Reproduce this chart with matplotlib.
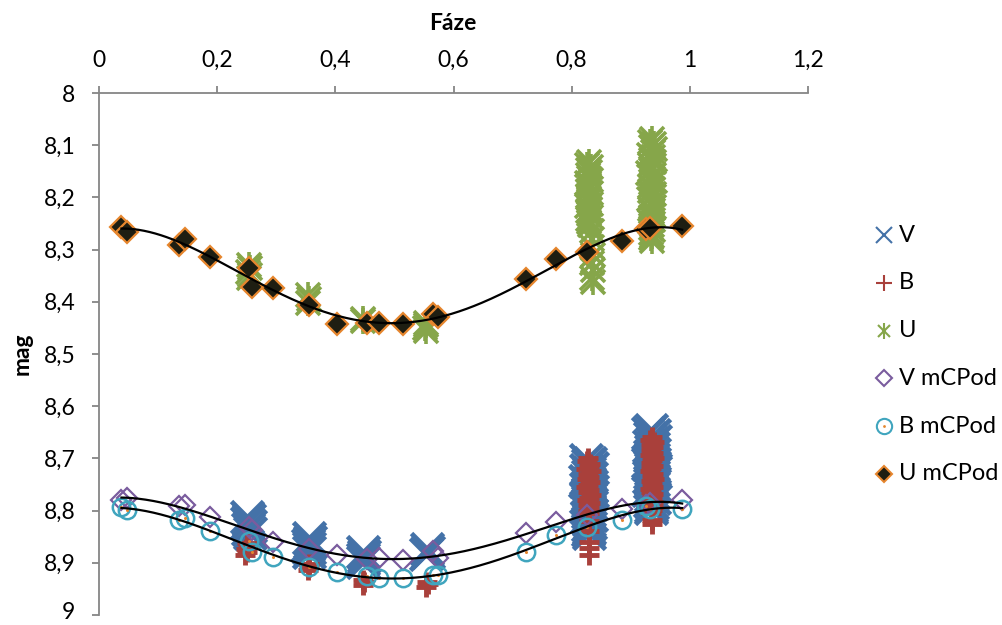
import numpy as np
import matplotlib.pyplot as plt
from matplotlib.lines import Line2D
from matplotlib.ticker import FuncFormatter
from matplotlib.transforms import ScaledTranslation

plt.rcParams['font.family'] = ['Lato', 'DejaVu Sans']

# --- raw photometry (phase, magnitude) ---
v_phase = [0.251, 0.254, 0.250, 0.256, 0.252, 0.255,
           0.355, 0.357, 0.354, 0.356, 0.355,
           0.447, 0.448, 0.446, 0.447,
           0.555, 0.556, 0.554,
           0.824, 0.831, 0.827, 0.834, 0.825, 0.830, 0.828, 0.833, 0.823, 0.829,
           0.832, 0.826, 0.834, 0.828, 0.824, 0.831, 0.827, 0.833, 0.825, 0.830,
           0.828, 0.832, 0.826, 0.829, 0.831, 0.827, 0.830, 0.828, 0.829,
           0.935, 0.930, 0.939, 0.933, 0.941, 0.936, 0.931, 0.938, 0.934, 0.940,
           0.932, 0.937, 0.935, 0.929, 0.939, 0.934, 0.941, 0.936, 0.931, 0.938,
           0.933, 0.940, 0.935, 0.930, 0.937, 0.934, 0.939, 0.932, 0.936, 0.935, 0.934]
v_mag = [8.812, 8.818, 8.824, 8.830, 8.836, 8.842,
         8.853, 8.860, 8.866, 8.872, 8.879,
         8.880, 8.887, 8.893, 8.899,
         8.874, 8.879, 8.884,
         8.703, 8.708, 8.713, 8.718, 8.723, 8.728, 8.733, 8.738, 8.743, 8.748,
         8.753, 8.758, 8.763, 8.768, 8.773, 8.778, 8.783, 8.788, 8.793, 8.798,
         8.803, 8.808, 8.813, 8.818, 8.823, 8.828, 8.833, 8.838, 8.843,
         8.646, 8.651, 8.656, 8.661, 8.666, 8.671, 8.676, 8.681, 8.686, 8.691,
         8.696, 8.701, 8.706, 8.711, 8.716, 8.721, 8.726, 8.731, 8.736, 8.741,
         8.746, 8.751, 8.756, 8.761, 8.766, 8.771, 8.776, 8.781, 8.786, 8.791, 8.795]

b_phase = [0.250, 0.252, 0.249, 0.251, 0.247,
           0.355, 0.356, 0.354,
           0.447, 0.448, 0.446,
           0.555, 0.556, 0.554,
           0.828, 0.826, 0.831, 0.829, 0.825, 0.832, 0.827, 0.830, 0.826, 0.831,
           0.828, 0.825, 0.830, 0.827, 0.832, 0.829, 0.826, 0.831, 0.828, 0.830,
           0.827, 0.829, 0.829, 0.830, 0.830, 0.830, 0.830,
           0.936, 0.933, 0.939, 0.935, 0.938, 0.934, 0.937, 0.932, 0.939, 0.936,
           0.934, 0.938, 0.935, 0.933, 0.937, 0.936, 0.939, 0.934, 0.936, 0.938,
           0.933, 0.935, 0.937, 0.936, 0.934, 0.938, 0.935, 0.937, 0.936, 0.935,
           0.936, 0.936]
b_mag = [8.862, 8.868, 8.873, 8.879, 8.886,
         8.903, 8.908, 8.913,
         8.932, 8.937, 8.942,
         8.936, 8.941, 8.946,
         8.700, 8.705, 8.710, 8.715, 8.720, 8.725, 8.730, 8.735, 8.740, 8.745,
         8.750, 8.755, 8.760, 8.765, 8.770, 8.775, 8.780, 8.785, 8.790, 8.795,
         8.800, 8.805, 8.820, 8.840, 8.860, 8.872, 8.885,
         8.659, 8.664, 8.669, 8.674, 8.679, 8.684, 8.689, 8.694, 8.699, 8.704,
         8.709, 8.714, 8.719, 8.724, 8.729, 8.734, 8.739, 8.744, 8.749, 8.754,
         8.759, 8.764, 8.769, 8.774, 8.779, 8.784, 8.789, 8.794, 8.799, 8.804,
         8.818, 8.826]

u_phase = [0.254, 0.256, 0.253, 0.255, 0.254,
           0.354, 0.355, 0.354,
           0.447, 0.447,
           0.553, 0.554, 0.552, 0.553,
           0.829, 0.826, 0.832, 0.828, 0.831, 0.827, 0.830, 0.833, 0.826, 0.829,
           0.831, 0.828, 0.832, 0.827, 0.830, 0.829, 0.833, 0.826, 0.831, 0.828,
           0.830, 0.832, 0.827, 0.829, 0.831, 0.834, 0.835, 0.834, 0.836, 0.835,
           0.836, 0.835, 0.836,
           0.936, 0.932, 0.939, 0.934, 0.941, 0.937, 0.931, 0.938, 0.935, 0.940,
           0.933, 0.937, 0.935, 0.930, 0.939, 0.934, 0.941, 0.936, 0.932, 0.938,
           0.933, 0.940, 0.935, 0.931, 0.937, 0.934, 0.939, 0.932, 0.936, 0.938,
           0.935, 0.937, 0.933, 0.936, 0.934, 0.937, 0.935, 0.936, 0.935, 0.936]
u_mag = [8.330, 8.336, 8.342, 8.348, 8.355,
         8.387, 8.395, 8.402,
         8.432, 8.437,
         8.440, 8.445, 8.450, 8.456,
         8.132, 8.137, 8.142, 8.147, 8.152, 8.157, 8.162, 8.167, 8.172, 8.177,
         8.182, 8.187, 8.192, 8.197, 8.202, 8.207, 8.212, 8.217, 8.222, 8.227,
         8.232, 8.237, 8.242, 8.247, 8.252, 8.265, 8.280, 8.295, 8.310, 8.325,
         8.340, 8.355, 8.362,
         8.088, 8.093, 8.098, 8.103, 8.108, 8.113, 8.118, 8.123, 8.128, 8.133,
         8.138, 8.143, 8.148, 8.153, 8.158, 8.163, 8.168, 8.173, 8.178, 8.183,
         8.188, 8.193, 8.198, 8.203, 8.208, 8.213, 8.218, 8.223, 8.228, 8.233,
         8.238, 8.243, 8.248, 8.253, 8.258, 8.263, 8.268, 8.273, 8.278, 8.283]

# --- mCPod model points ---
mc_phase = [0.038, 0.048, 0.136, 0.146, 0.188, 0.254, 0.259, 0.294, 0.356, 0.402,
            0.453, 0.474, 0.515, 0.565, 0.574, 0.723, 0.774, 0.826, 0.886, 0.926,
            0.932, 0.987]
v_mc = [8.779, 8.775, 8.792, 8.789, 8.813, 8.831, 8.838, 8.861, 8.874, 8.886,
        8.893, 8.891, 8.895, 8.877, 8.891, 8.843, 8.821, 8.808, 8.796, 8.789,
        8.786, 8.780]
b_mc = [8.794, 8.799, 8.818, 8.815, 8.840, 8.859, 8.879, 8.888, 8.909, 8.917,
        8.926, 8.930, 8.930, 8.923, 8.923, 8.879, 8.847, 8.831, 8.818, 8.792,
        8.797, 8.796]
u_mc = [8.256, 8.267, 8.291, 8.280, 8.314, 8.336, 8.372, 8.373, 8.406, 8.443,
        8.441, 8.440, 8.443, 8.423, 8.430, 8.356, 8.318, 8.304, 8.283, 8.261,
        8.259, 8.255]

labels = ['V', 'B', 'U', 'V mCPod', 'B mCPod', 'U mCPod']

blue = '#4472A8'
red = '#A9403B'
green = '#86A64A'
purple = '#7A5C9E'
teal = '#40A5BE'
orange = '#E6862E'
dark = '#1E1E12'
axis_grey = '#868686'

W, H = 1002, 625
fig = plt.figure(figsize=(W / 100, H / 100), dpi=100)
ax = fig.add_axes([99 / W, 1 - 615 / H, (808 - 99) / W, (615 - 93) / H])

ax.plot(v_phase, v_mag, ls='', marker='x', ms=23, mew=3.5, color=blue)
ax.plot(b_phase, b_mag, ls='', marker='+', ms=14, mew=3.5, color=red)
ax.plot(u_phase, u_mag, ls='', marker='x', ms=17, mew=2.6, color=green)
ax.plot(u_phase, u_mag, ls='', marker='|', ms=19, mew=2.6, color=green)

ax.plot(mc_phase, v_mc, ls='', marker='D', ms=10, mew=1.6, mfc='none', mec=purple)
ax.plot(mc_phase, b_mc, ls='', marker='o', ms=12.5, mew=1.8, mfc='none', mec=teal)
ax.plot(mc_phase, b_mc, ls='', marker='o', ms=2.2, mew=0, color=orange)
ax.plot(mc_phase, u_mc, ls='', marker='D', ms=11, mew=1.6, mfc=dark, mec=orange)

# polynomial trendlines through the mCPod series
xs = np.linspace(min(mc_phase), max(mc_phase), 300)
for ys in (u_mc, v_mc, b_mc):
    coef = np.polyfit(mc_phase, ys, 4)
    ax.plot(xs, np.polyval(coef, xs), color='black', lw=1.6)

ax.set_xlim(0, 1.2)
ax.set_ylim(9, 8)
ax.set_xticks(np.arange(0, 1.21, 0.2))
ax.set_yticks(np.arange(8, 9.01, 0.1))

comma = FuncFormatter(lambda v, p: ('%.1f' % v).rstrip('0').rstrip('.').replace('.', ','))
ax.xaxis.set_major_formatter(comma)
ax.yaxis.set_major_formatter(comma)

ax.xaxis.tick_top()
for s in ('right', 'bottom'):
    ax.spines[s].set_visible(False)
for s in ('left', 'top'):
    ax.spines[s].set_color(axis_grey)
    ax.spines[s].set_linewidth(1.3)
ax.tick_params(axis='x', direction='out', length=5, width=1.3, color=axis_grey,
               labelsize=16.5, pad=11, labelcolor='black')
ax.tick_params(axis='y', direction='out', length=5, width=1.3, color=axis_grey,
               labelsize=16.5, pad=12, labelcolor='black')
ax.set_facecolor('none')

# nudge the bottom "9" label up so it stays inside the canvas
last = ax.yaxis.get_major_ticks()[-1].label1
last.set_transform(last.get_transform() + ScaledTranslation(0, 4 / 100, fig.dpi_scale_trans))

fig.text(453 / W, 1 - 24 / H, 'Fáze', ha='center', va='center',
         fontsize=16.5, fontweight='bold')
fig.text(22 / W, 1 - 354 / H, 'mag', ha='center', va='center', rotation=90,
         fontsize=16.5, fontweight='bold')

# legend drawn by hand on the right
leg_styles = [
    dict(marker='x', ms=11, mew=1.5, color=blue),
    dict(marker='+', ms=12, mew=1.5, color=red),
    dict(marker='x', ms=9, mew=1.5, color=green),
    dict(marker='D', ms=8, mew=1.5, mfc='none', mec=purple),
    dict(marker='o', ms=11, mew=1.5, mfc='none', mec=teal),
    dict(marker='D', ms=8, mew=1.5, mfc=dark, mec=orange),
]
for i, (lab, st) in enumerate(zip(labels, leg_styles)):
    yy = 1 - (235 + i * 47.8) / H
    fig.add_artist(Line2D([884 / W], [yy], ls='', **st))
    if lab == 'U':
        fig.add_artist(Line2D([884 / W], [yy], ls='', marker='|', ms=11, mew=1.5, color=green))
    if lab == 'B mCPod':
        fig.add_artist(Line2D([884 / W], [yy], ls='', marker='o', ms=2, mew=0, color=orange))
    fig.text(899 / W, yy, lab, ha='left', va='center', fontsize=17)

fig.savefig('out.png', dpi=100)
